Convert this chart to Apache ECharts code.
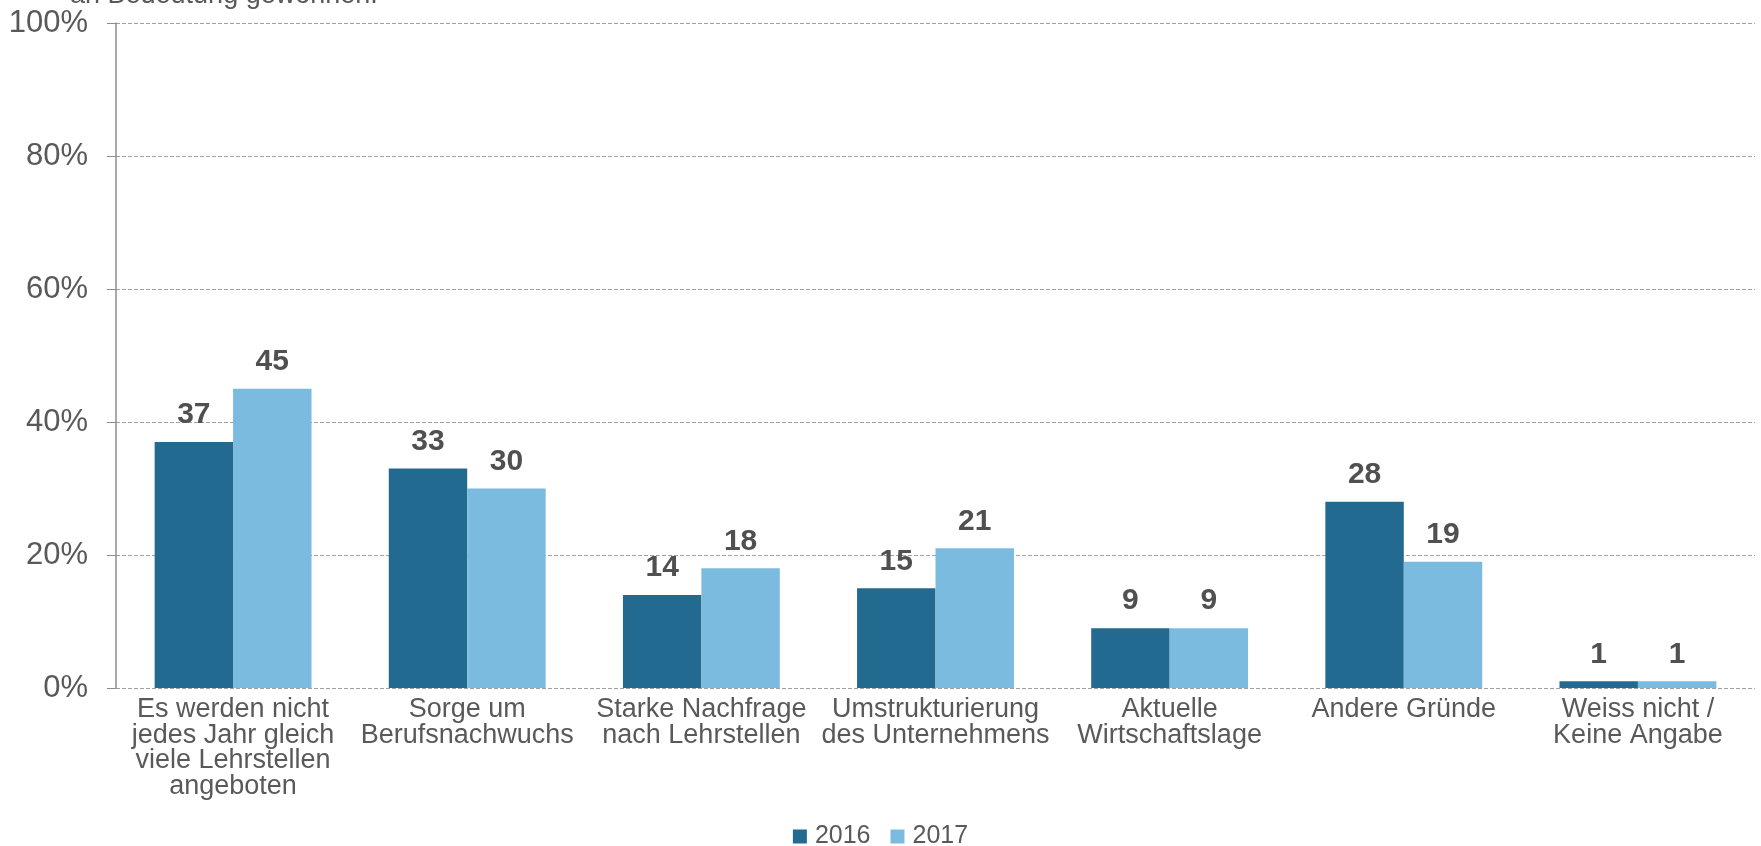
<!DOCTYPE html>
<html>
<head>
<meta charset="utf-8">
<script src="https://cdn.jsdelivr.net/npm/echarts@6/dist/echarts.min.js"></script>
<style>
html,body{margin:0;padding:0;background:#fff;}
#chart{width:1761px;height:846px;}
</style>
</head>
<body>
<div id="chart"></div>
<script>
const categories = [
  "Es werden nicht\njedes Jahr gleich\nviele Lehrstellen\nangeboten",
  "Sorge um\nBerufsnachwuchs",
  "Starke Nachfrage\nnach Lehrstellen",
  "Umstrukturierung\ndes Unternehmens",
  "Aktuelle\nWirtschaftslage",
  "Andere Gründe",
  "Weiss nicht /\nKeine Angabe"
];
const seriesNames = ["2016", "2017"];
const values2016 = [37, 33, 14, 15, 9, 28, 1];
const values2017 = [45, 30, 18, 21, 9, 19, 1];
const titleText = "an Bedeutung gewonnen.";

const FONT = "'Liberation Sans', Arial, sans-serif";
const TEXT = "#595959";
const chart = echarts.init(document.getElementById('chart'));
chart.setOption({
  animation: false,
  textStyle: { fontFamily: FONT },
  graphic: [{
    type: 'text', left: 70, top: -18,
    style: { text: titleText, font: "27px " + FONT, fill: TEXT }
  }],
  legend: {
    data: seriesNames, top: 819, left: 'center',
    itemWidth: 14, itemHeight: 14, itemGap: 20,
    icon: 'rect',
    textStyle: { fontSize: 25, color: TEXT, fontFamily: FONT, padding: [8,0,0,3] }
  },
  grid: { left: 116, right: 6, top: 23, bottom: 158 },
  xAxis: {
    type: 'category', data: categories,
    axisLine: { show: false }, axisTick: { show: false },
    axisLabel: { fontSize: 27, lineHeight: 25.5, color: TEXT, fontFamily: FONT, margin: 9, interval: 0 }
  },
  yAxis: {
    type: 'value', min: 0, max: 100, interval: 20,
    axisLine: { show: true, lineStyle: { color: '#8c8c8c', width: 1.5 } },
    axisTick: { show: true, length: 9, lineStyle: { color: '#8c8c8c' } },
    splitLine: { lineStyle: { type: [4, 2], color: '#a0a0a0', width: 1.2 } },
    axisLabel: { formatter: '{value}%', fontSize: 31, color: TEXT, fontFamily: FONT, margin: 28 }
  },
  series: [
    {
      name: seriesNames[0], type: 'bar', data: values2016,
      barGap: '0%', barCategoryGap: '33%',
      itemStyle: { color: '#236a91' },
      label: { show: true, position: 'top', distance: 12, fontSize: 30, fontWeight: 'bold', color: '#505050', fontFamily: FONT }
    },
    {
      name: seriesNames[1], type: 'bar', data: values2017,
      itemStyle: { color: '#7bbbe0' },
      label: { show: true, position: 'top', distance: 12, fontSize: 30, fontWeight: 'bold', color: '#505050', fontFamily: FONT }
    }
  ]
});
</script>
</body>
</html>
